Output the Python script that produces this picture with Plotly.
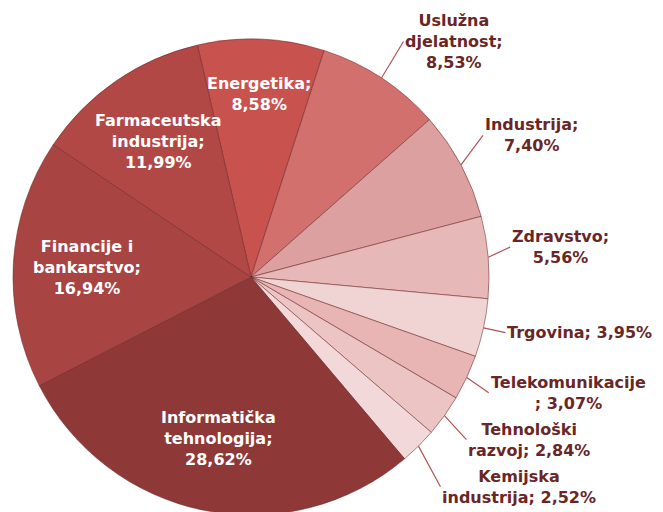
import math
import plotly.graph_objects as go

# Udio po sektorima (%), redoslijed u smjeru kazaljke od vrha
sektori = ["Energetika", "Uslužna djelatnost", "Industrija", "Zdravstvo", "Trgovina",
           "Telekomunikacije", "Tehnološki razvoj", "Kemijska industrija",
           "Informatička tehnologija", "Financije i bankarstvo", "Farmaceutska industrija"]
udio = [8.58, 8.53, 7.40, 5.56, 3.95, 3.07, 2.84, 2.52, 28.62, 16.94, 11.99]
# tekst oznake prije postotka (s prijelomima kao u izvorniku)
oznake = ["Energetika;<br>", "Uslužna<br>djelatnost;<br>", "Industrija;<br>", "Zdravstvo;<br>",
          "Trgovina; ", "Telekomunikacije<br>; ", "Tehnološki<br>razvoj; ", "Kemijska<br>industrija; ",
          "Informatička<br>tehnologija;<br>", "Financije i<br>bankarstvo;<br>", "Farmaceutska<br>industrija;<br>"]
unutra = [True, False, False, False, False, False, False, False, True, True, True]
boje = ["#C8524E", "#D2706E", "#DDA0A0", "#E6B8B8", "#F0D4D4", "#E8B4B4", "#ECC4C4",
        "#F2D8D8", "#8E3838", "#A84442", "#B24846"]

W, H = 663, 512
OFF = 8  # margina <body> stranice
CX, CY, R = 251 - OFF, 277 - OFF, 238
ROT = -13
LINE = 21  # visina retka oznake u px


def paper(px, py):
    return px / W, 1 - py / H


fig = go.Figure()
fig.add_trace(go.Pie(
    labels=sektori, values=udio, sort=False, direction="clockwise", rotation=ROT,
    marker=dict(colors=boje, line=dict(color="rgba(110,40,40,0.55)", width=1)),
    textinfo="none", hoverinfo="label+percent", showlegend=False,
    domain=dict(x=[(CX - R) / W, (CX + R) / W], y=[(H - CY - R) / H, (H - CY + R) / H]),
))

# oznake - pozicija iz kuta sredine isječka
ukupno = sum(udio)
kut = ROT
zadnje_dno = -1e9
for ime, v, u in zip(oznake, udio, unutra):
    span = 360 * v / ukupno
    mid = math.radians(kut + span / 2)
    kut += span
    tekst = "<b>" + ime + f"{v:.2f}".replace(".", ",") + "%</b>"
    if u:
        k = 0.77 if span < 40 else 0.69
        x, y = paper(CX + k * R * math.sin(mid), CY - k * R * math.cos(mid))
        fig.add_annotation(x=x, y=y, xref="paper", yref="paper", text=tekst,
                           showarrow=False, xanchor="center", yanchor="middle",
                           font=dict(family="DejaVu Sans", size=16, color="white"))
    else:
        hx, hy = CX + R * math.sin(mid), CY - R * math.cos(mid)
        pola = LINE * (tekst.count("<br>") + 1) / 2
        ty = hy - 50 * math.cos(mid) - 6
        ty = max(ty, pola + 2 - OFF + 8, zadnje_dno + 5 + pola)
        zadnje_dno = ty + pola
        x, y = paper(hx, hy)
        fig.add_annotation(x=x, y=y, xref="paper", yref="paper", text=tekst,
                           showarrow=True, arrowhead=0, arrowwidth=1.2, arrowcolor="#B05454",
                           ax=22, ay=ty - hy, xanchor="left", yanchor="middle",
                           font=dict(family="DejaVu Sans", size=16, color="#6A2626"))

fig.update_layout(width=W, height=H, margin=dict(l=0, r=0, t=0, b=0),
                  paper_bgcolor="white", plot_bgcolor="white")

fig.write_html("out.html")
